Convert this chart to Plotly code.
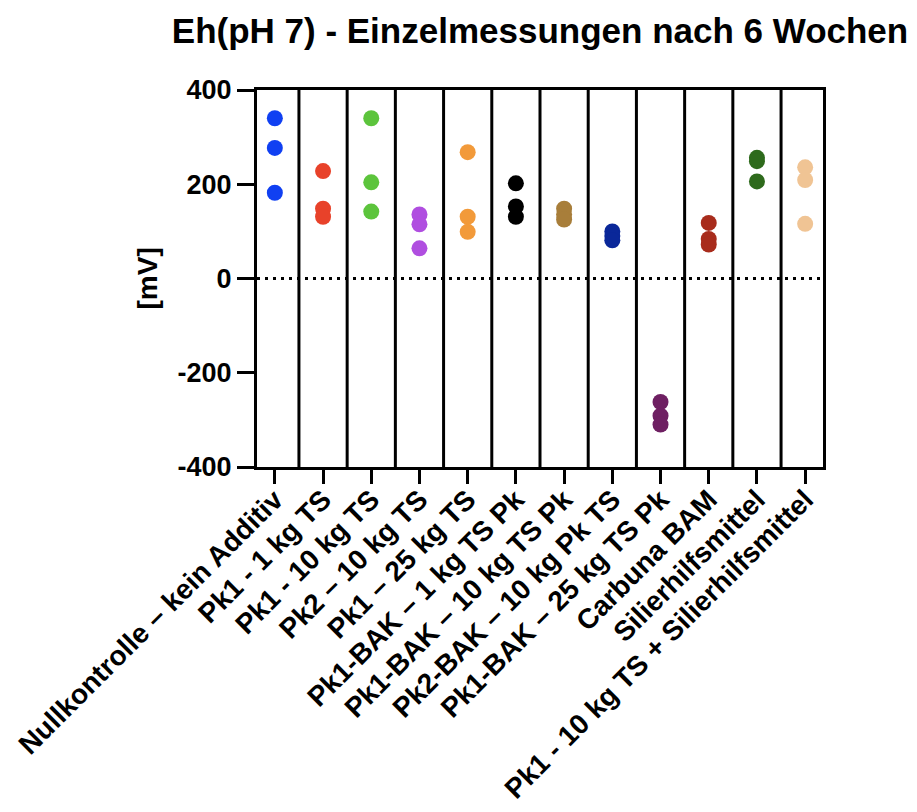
import plotly.graph_objects as go

categories = [
    "Nullkontrolle – kein Additiv",
    "Pk1 - 1 kg TS",
    "Pk1 - 10 kg TS",
    "Pk2 – 10 kg TS",
    "Pk1 – 25 kg TS",
    "Pk1-BAK – 1 kg TS Pk",
    "Pk1-BAK – 10 kg TS Pk",
    "Pk2-BAK – 10 kg Pk TS",
    "Pk1-BAK – 25 kg TS Pk",
    "Carbuna BAM",
    "Silierhilfsmittel",
    "Pk1 - 10 kg TS + Silierhilfsmittel",
]

nullkontrolle = [340, 277, 182]
pk1_1kg = [228, 148, 131]
pk1_10kg = [340, 204, 142]
pk2_10kg = [136, 115, 64]
pk1_25kg = [268, 131, 99]
pk1_bak_1kg = [202, 153, 131]
pk1_bak_10kg = [148, 136, 125]
pk2_bak_10kg = [100, 90, 81]
pk1_bak_25kg = [-262, -291, -310]
carbuna_bam = [118, 84, 72]
silierhilfsmittel = [256, 249, 206]
pk1_10kg_silier = [236, 209, 116]

series = [nullkontrolle, pk1_1kg, pk1_10kg, pk2_10kg, pk1_25kg, pk1_bak_1kg,
          pk1_bak_10kg, pk2_bak_10kg, pk1_bak_25kg, carbuna_bam,
          silierhilfsmittel, pk1_10kg_silier]

colors = ["#1040f2", "#e8422a", "#5cc43c", "#b04ee0", "#f29a3a", "#000000",
          "#a87e3a", "#0a2799", "#6e1f62", "#a82c1c", "#2e6a1c", "#f0c494"]

y_ticks = [-400, -200, 0, 200, 400]

FONT = "Liberation Sans, Arial, sans-serif"

fig = go.Figure()
for i, (vals, col) in enumerate(zip(series, colors)):
    fig.add_trace(go.Scatter(
        x=[i] * len(vals), y=vals, mode="markers",
        marker=dict(size=16, color=col, line=dict(width=0)),
        showlegend=False, name=categories[i],
    ))

shapes = []
for i in range(len(categories) - 1):
    shapes.append(dict(type="line", xref="x", yref="paper", x0=i + 0.5, x1=i + 0.5,
                       y0=0, y1=1, line=dict(color="black", width=3), layer="above"))
shapes.append(dict(type="line", xref="paper", yref="y", x0=0, x1=1, y0=0, y1=0,
                   line=dict(color="black", width=3, dash="3px,5px"), layer="above"))

fig.update_layout(
    width=917, height=812,
    margin=dict(l=257, r=94, t=90, b=345, autoexpand=False),
    paper_bgcolor="white", plot_bgcolor="white",
    font=dict(family=FONT, color="black"),
    title=dict(text="Eh(pH 7) - Einzelmessungen nach 6 Wochen",
               font=dict(size=35, family=FONT, weight="bold", color="black"),
               x=0.5, xref="paper", xanchor="center",
               y=1 - 31 / 812, yref="container", yanchor="middle"),
    shapes=shapes,
    annotations=[dict(text="[mV]", xref="paper", yref="paper",
                      x=(147 - 257) / 566, y=0.5, xanchor="center", yanchor="middle",
                      textangle=-90, showarrow=False,
                      font=dict(size=28, family=FONT, weight="bold", color="black"))],
)

fig.update_xaxes(
    range=[-0.37, len(categories) - 1 + 0.37],
    tickmode="array", tickvals=list(range(len(categories))), ticktext=categories,
    tickangle=-45, ticks="outside", ticklen=14, tickwidth=3, tickcolor="black",
    ticklabelstandoff=-12,
    showline=True, linewidth=3, linecolor="black", mirror=True,
    showgrid=False, zeroline=False, automargin=False,
    tickfont=dict(size=28, family=FONT, weight="bold", color="black"),
)
fig.update_yaxes(
    range=[-400, 400], tickmode="array", tickvals=y_ticks,
    ticktext=[str(v) for v in y_ticks],
    ticks="outside", ticklen=17, tickwidth=3, tickcolor="black",
    showline=True, linewidth=3, linecolor="black", mirror=True,
    showgrid=False, zeroline=False, automargin=False,
    tickfont=dict(size=27, family=FONT, weight="bold", color="black"),
)

fig.write_html("out.html")
